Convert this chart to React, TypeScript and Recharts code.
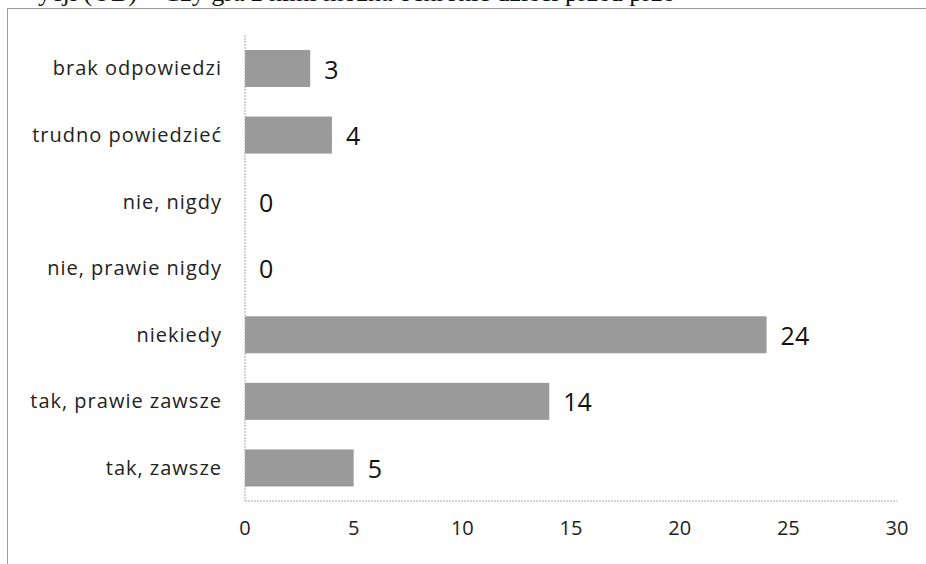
import React from "react";
import { BarChart, Bar, XAxis, YAxis } from "recharts";

const categories = [
  "brak odpowiedzi",
  "trudno powiedzieć",
  "nie, nigdy",
  "nie, prawie nigdy",
  "niekiedy",
  "tak, prawie zawsze",
  "tak, zawsze",
];
const values = [3, 4, 0, 0, 24, 14, 5];
const xTicks = [0, 5, 10, 15, 20, 25, 30];
const headingText = "ycji (OB) – Czy gra z nimi można ochronić dzieci przed prze";

const data = categories.map((c, i) => ({ name: c, value: values[i] }));

const FONT = "'Open Sans', sans-serif";

const BarWithLabel = (props: any) => {
  const { x, y, width, height, fill, payload } = props;
  const w = Math.max(0, Number(width) || 0);
  const v = payload ? payload.value : props.value;
  return (
    <g>
      {w > 0 && <rect x={x} y={y} width={w} height={height} fill={fill} />}
      <text
        x={x + w + 14}
        y={y + height / 2}
        dominantBaseline="central"
        fill="#111"
        fontSize={25}
        fontFamily={FONT}
      >
        {v}
      </text>
    </g>
  );
};

export default function App() {
  return (
    <div
      style={{
        position: "fixed",
        left: 0,
        top: 0,
        width: 926,
        height: 564,
        overflow: "hidden",
        background: "#fff",
      }}
    >
      <div
        style={{
          position: "absolute",
          left: 0,
          top: 0,
          width: 926,
          height: 8,
          overflow: "hidden",
        }}
      >
        <div
          style={{
            position: "absolute",
            left: 38,
            top: -20,
            fontFamily: "'Liberation Serif', serif",
            fontSize: 26,
            lineHeight: "26px",
            whiteSpace: "nowrap",
            color: "#111",
          }}
        >
          {headingText}
        </div>
      </div>
      <div
        style={{
          position: "absolute",
          left: 7,
          top: 8,
          width: 919,
          height: 556,
          boxSizing: "border-box",
          borderLeft: "1px solid #9a9a9a",
          borderTop: "1px solid #9a9a9a",
        }}
      />
      <div style={{ position: "absolute", left: 8, top: 9 }}>
        <BarChart
          width={918}
          height={555}
          data={data}
          layout="vertical"
          margin={{ top: 26, right: 29, bottom: 23, left: 0 }}
        >
          <XAxis
            type="number"
            domain={[0, 30]}
            ticks={xTicks}
            interval={0}
            tickLine={false}
            tickSize={0}
            tickMargin={20}
            axisLine={{ stroke: "#a8a8a8", strokeDasharray: "2 1" }}
            tick={{ fill: "#222", fontSize: 20, fontFamily: FONT }}
            height={40}
          />
          <YAxis
            type="category"
            dataKey="name"
            width={237}
            tickLine={false}
            tickSize={0}
            tickMargin={23}
            axisLine={{ stroke: "#a8a8a8", strokeDasharray: "2 1" }}
            tick={{ fill: "#222", fontSize: 20, fontFamily: FONT, letterSpacing: 1 }}
            interval={0}
          />
          <Bar
            dataKey="value"
            fill="#9a9a9a"
            barSize={37}
            isAnimationActive={false}
            shape={BarWithLabel}
          />
        </BarChart>
      </div>
    </div>
  );
}
